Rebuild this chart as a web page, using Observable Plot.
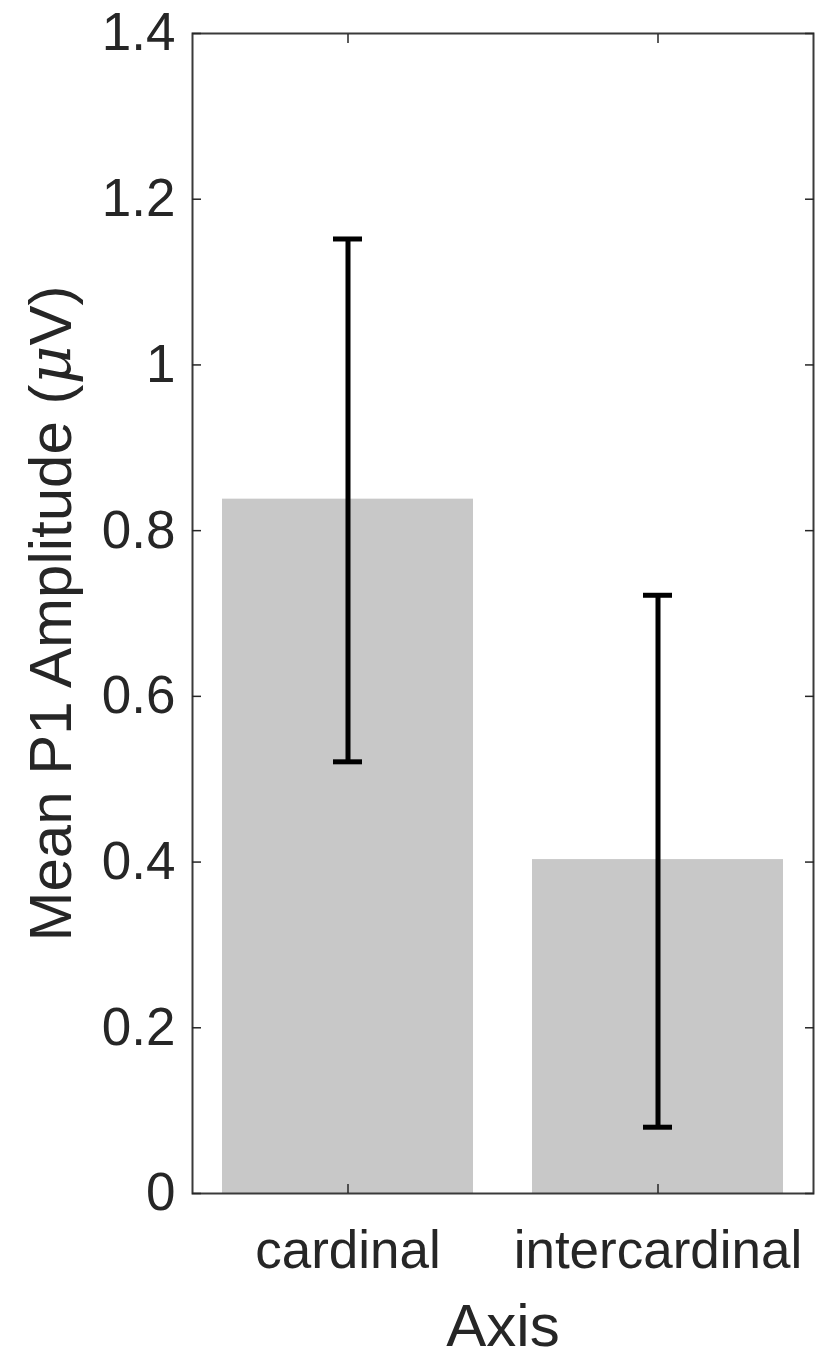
<!DOCTYPE html>
<html>
<head>
<meta charset="utf-8">
<script src="https://cdn.jsdelivr.net/npm/d3@7"></script>
<script src="https://cdn.jsdelivr.net/npm/@observablehq/plot@0.6"></script>
<style>
  html, body { margin: 0; padding: 0; background: #fff; }
</style>
</head>
<body>
<div id="chart"></div>
<script>
// ---- data ----
const categories = ["cardinal", "intercardinal"];
const means = [0.838, 0.403];
const lower = [0.521, 0.080];
const upper = [1.152, 0.722];
const yTicks = [0, 0.2, 0.4, 0.6, 0.8, 1, 1.2, 1.4];
const xLabel = "Axis";
const yLabel = "Mean P1 Amplitude (μV)";

const data = categories.map((c, i) => ({cat: c, mean: means[i], lo: lower[i], hi: upper[i]}));
const fmt = d => String(+d.toFixed(1));

const ink = "#262626";
const chart = Plot.plot({
  width: 816,
  height: 1359,
  marginLeft: 192,
  marginRight: 3,
  marginTop: 33,
  marginBottom: 166,
  style: {fontFamily: "'Liberation Sans', Arial, sans-serif", fontSize: "53px", color: ink, background: "#fff"},
  x: {domain: categories, paddingInner: 0.19, paddingOuter: 0.095},
  y: {domain: [0, 1.4]},
  marks: [
    Plot.barY(data, {x: "cat", y: "mean", fill: "#c8c8c8"}),
    Plot.ruleX(data, {x: "cat", y1: "lo", y2: "hi", stroke: "#000", strokeWidth: 5}),
    Plot.tickY(data, {x: "cat", y: "hi", stroke: "#000", strokeWidth: 5, insetLeft: 111, insetRight: 111}),
    Plot.tickY(data, {x: "cat", y: "lo", stroke: "#000", strokeWidth: 5, insetLeft: 111, insetRight: 111}),
    Plot.frame({stroke: "#3a3a3a", strokeWidth: 2}),
    Plot.axisY({anchor: "left", ticks: yTicks, tickSize: -9, tickPadding: 26, strokeWidth: 1.5,
      tickFormat: fmt, label: yLabel, labelAnchor: "center", labelOffset: 164, labelArrow: "none"}),
    Plot.axisY({anchor: "right", ticks: yTicks, tickSize: -9, strokeWidth: 1.5, tickFormat: () => "", label: null}),
    Plot.axisX({anchor: "bottom", tickSize: -9, tickPadding: 46, strokeWidth: 1.5,
      label: xLabel, labelAnchor: "center", labelOffset: 152, labelArrow: "none"}),
    Plot.axisX({anchor: "top", tickSize: -9, strokeWidth: 1.5, tickFormat: () => "", label: null})
  ]
});

// italic mu in the y label, and bigger axis-label font
d3.select(chart).selectAll("text").each(function() {
  const t = this.textContent;
  if (t === yLabel || t.includes("Amplitude")) {
    const sel = d3.select(this);
    sel.text(null).style("font-size", "60px");
    sel.append("tspan").text("Mean P1 Amplitude (");
    sel.append("tspan").attr("font-style", "italic").attr("font-family", "'DejaVu Serif', serif").text("μ");
    sel.append("tspan").text("V)");
  } else if (t === xLabel) {
    d3.select(this).style("font-size", "60px");
  }
});

document.getElementById("chart").appendChild(chart);
</script>
</body>
</html>
